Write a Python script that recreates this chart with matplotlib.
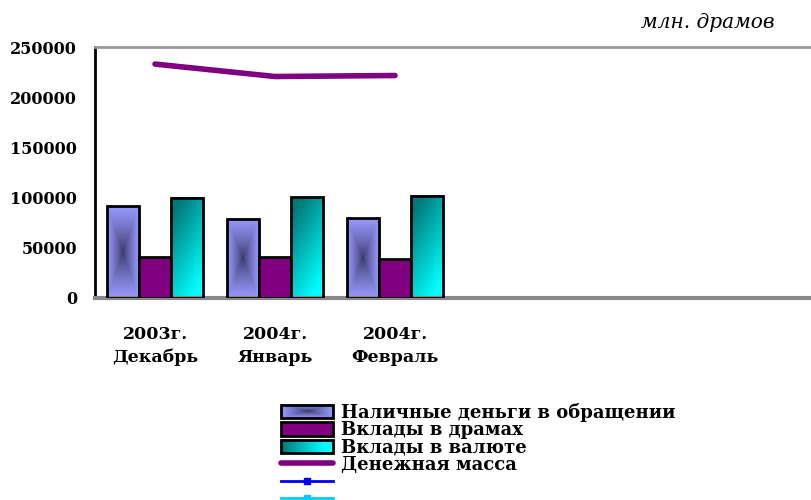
import numpy as np
import matplotlib.pyplot as plt
from matplotlib.lines import Line2D
from matplotlib.patches import Patch, Rectangle
from matplotlib.colors import LinearSegmentedColormap
from matplotlib.legend_handler import HandlerBase
from matplotlib.image import BboxImage
from matplotlib.transforms import Bbox, TransformedBbox

plt.rcParams['font.family'] = ['DejaVu Serif']
plt.rcParams['font.weight'] = 'bold'

# data
categories = ['2003г.\nДекабрь', '2004г.\nЯнварь', '2004г.\nФевраль']
n_slots = 6
cash = [91600, 79000, 79400]
dram_deposits = [41100, 40500, 38800]
fx_deposits = [99900, 100300, 101900]
money_supply = [233000, 220600, 221600]

names = ['Наличные деньги в обращении', 'Вклады в драмах',
         'Вклады в валюте', 'Денежная масса']

cmap_cash = LinearSegmentedColormap.from_list('cash', ['#383868', '#9a9aff'])
cmap_fx = LinearSegmentedColormap.from_list('fx', ['#007878', '#00ffff'])


def center_gradient(n=120):
    u, v = np.meshgrid(np.linspace(-1, 1, n), np.linspace(-1, 1, n))
    d = np.maximum(np.abs(u), np.abs(v))
    return cmap_cash(d ** 0.8)


def diag_gradient(n=120):
    u, v = np.meshgrid(np.linspace(0, 1, n), np.linspace(0, 1, n))
    t = np.clip(0.85 * (1 - v) + 0.45 * u - 0.15, 0, 1)
    return cmap_fx(t)


def side_gradient(n=120):
    u, v = np.meshgrid(np.linspace(0, 1, n), np.linspace(0, 1, n))
    return cmap_fx(np.clip(1.2 * u, 0, 1))


class GradientHandler(HandlerBase):
    # legend box filled with a gradient picture
    def __init__(self, img):
        super().__init__()
        self.img = img

    def create_artists(self, legend, orig_handle, xdescent, ydescent,
                       width, height, fontsize, trans):
        bb = TransformedBbox(Bbox.from_bounds(-xdescent, -ydescent, width, height), trans)
        im = BboxImage(bb, interpolation='bilinear')
        im.set_data(self.img)
        rect = Rectangle((-xdescent, -ydescent), width, height, facecolor='none',
                         edgecolor='black', lw=2, transform=trans)
        return [im, rect]


fig = plt.figure(figsize=(8.11, 5.0), dpi=100)
ax = fig.add_axes([95 / 811, 1 - 298 / 500, 720 / 811, 251 / 500])

x = np.arange(len(categories))
w = 0.265
bars1 = ax.bar(x - w, cash, w, facecolor='none', edgecolor='black', lw=2, zorder=3)
bars2 = ax.bar(x, dram_deposits, w, facecolor='#800080', edgecolor='black', lw=2, zorder=3)
bars3 = ax.bar(x + w, fx_deposits, w, facecolor='none', edgecolor='black', lw=2, zorder=3)

for r in bars1:
    ax.imshow(center_gradient(), extent=(r.get_x(), r.get_x() + r.get_width(), 0, r.get_height()),
              origin='lower', aspect='auto', zorder=2, interpolation='bilinear')
for r in bars3:
    ax.imshow(diag_gradient(), extent=(r.get_x(), r.get_x() + r.get_width(), 0, r.get_height()),
              origin='lower', aspect='auto', zorder=2, interpolation='bilinear')

ax.plot(x, money_supply, color='#800080', lw=4, solid_capstyle='round', zorder=4)

ax.set_xlim(-0.5, n_slots - 0.5)
ax.set_ylim(0, 250000)
ax.set_yticks(range(0, 250001, 50000))
ax.set_xticks(x)
ax.set_xticklabels(categories, fontsize=12.5, linespacing=1.45)
ax.tick_params(axis='y', length=0, pad=13, labelsize=11.5)
ax.tick_params(axis='x', length=0, pad=20)

ax.spines['left'].set_color('black')
ax.spines['left'].set_linewidth(2)
ax.spines['top'].set_color('#9a9a9a')
ax.spines['top'].set_linewidth(2)
ax.spines['bottom'].set_color('#888888')
ax.spines['bottom'].set_linewidth(3)
ax.spines['right'].set_visible(False)

fig.text(775 / 811, 1 - 22 / 500, 'млн. драмов', ha='right', va='center',
         fontsize=14.5, style='italic', weight='normal')

cash_patch = Patch(facecolor='#9a9aff', edgecolor='black', lw=2)
fx_patch = Patch(facecolor='#00c0c0', edgecolor='black', lw=2)
handles = [
    cash_patch,
    Patch(facecolor='#800080', edgecolor='black', lw=2),
    fx_patch,
    Line2D([], [], color='#800080', lw=4, solid_capstyle='round'),
    Line2D([], [], color='#0000ff', lw=2, marker='s', markersize=5),
    Line2D([], [], color='#00ccff', lw=2, marker='s', markersize=5),
]
labels = names + [' ', ' ']
fig.legend(handles, labels, loc='upper left', bbox_to_anchor=(281 / 811, 1 - 403 / 500),
           frameon=False, fontsize=13, handlelength=2.9, handleheight=0.75,
           handletextpad=0.4, labelspacing=-0.04, borderpad=0, borderaxespad=0,
           handler_map={cash_patch: GradientHandler(center_gradient()),
                        fx_patch: GradientHandler(side_gradient())})

fig.savefig('out.png', dpi=100)
